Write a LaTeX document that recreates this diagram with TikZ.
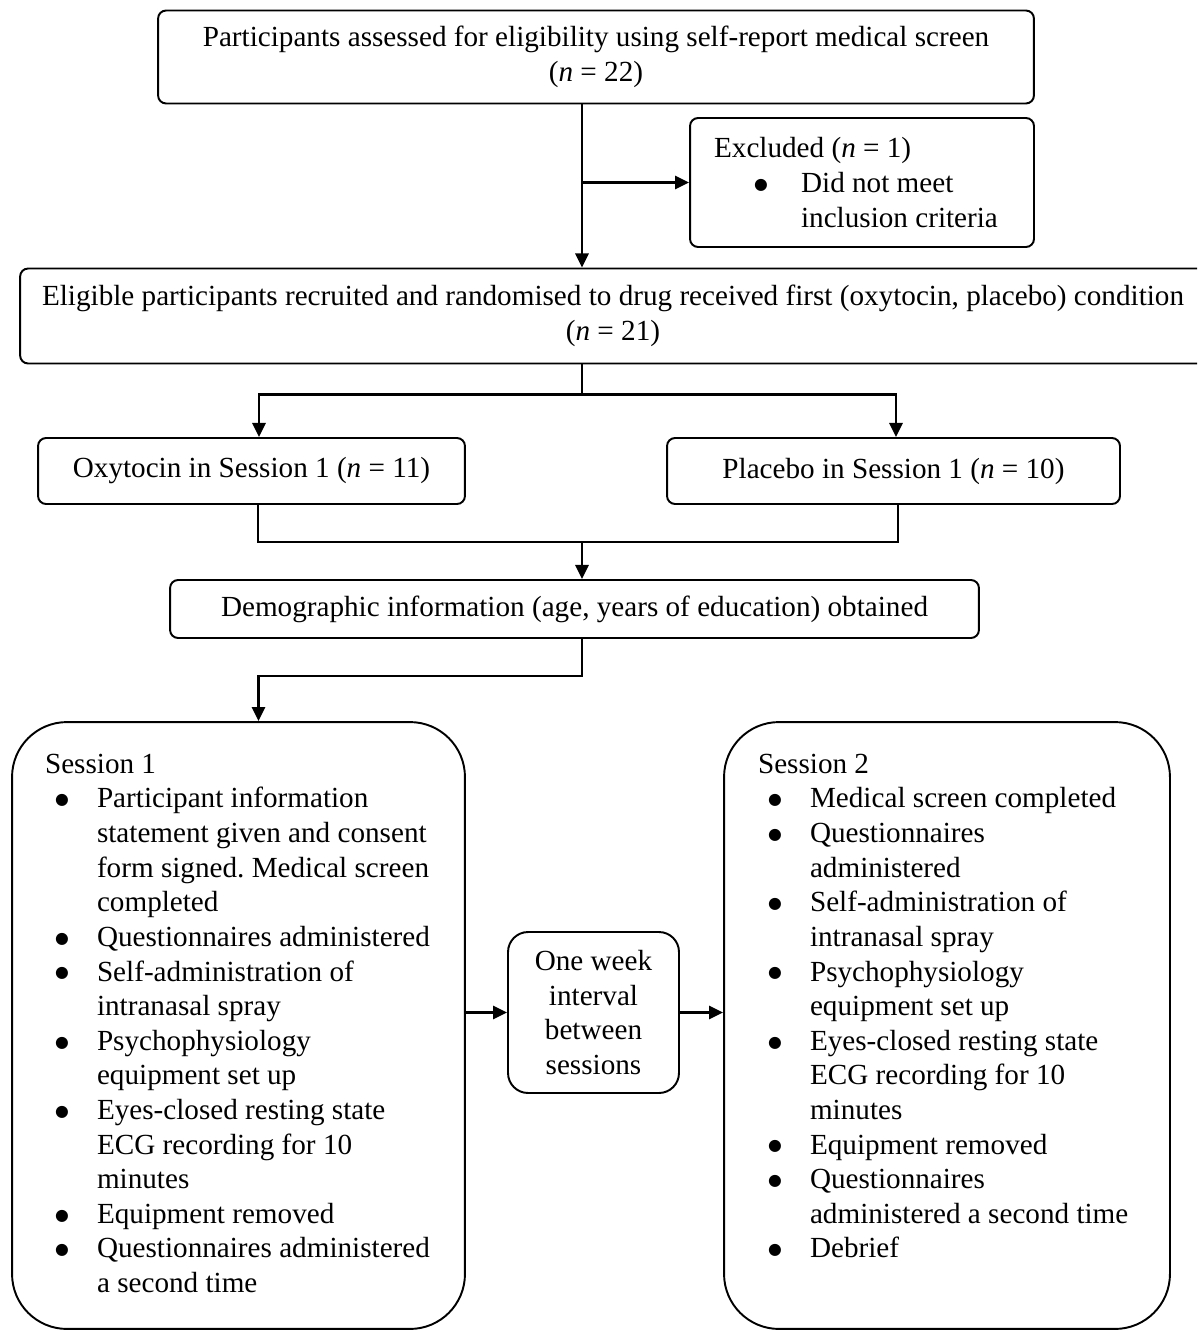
\documentclass[tikz,border=0pt]{standalone}
\usepackage{fontspec}
\setmainfont{Liberation Serif}
\newfontfamily\dotfont{DejaVu Sans}
\usetikzlibrary{arrows.meta,positioning}

\newcommand{\bigdot}{\raisebox{1.8pt}{\dotfont\fontsize{9}{9}\selectfont ●}}
\newcommand{\sesbul}{\makebox[1.04cm][l]{\hspace*{0.2cm}\bigdot}}
\newcommand{\sesind}{\hspace*{1.04cm}}

\begin{document}
\begin{tikzpicture}[
        x=0.02cm, y=-0.02cm,
        >={Triangle[length=8pt,width=7.5pt]},
        line width=1.1pt,
        font=\fontsize{16.6}{19.7}\selectfont,
        box/.style={draw, rectangle, rounded corners=0.16cm, inner sep=0pt, align=center},
        session/.style={draw, rectangle, rounded corners=1.1cm, inner sep=0pt},
        list/.style={align=left, inner sep=0pt, anchor=north west},
        link/.style={line width=1.4pt}
    ]
        \clip (0,0) rectangle (1197,1331);

        % Nodes
        \node (screen) [box, minimum width=17.52cm, minimum height=1.86cm] at (596,57) {Participants assessed for eligibility using self-report medical screen\\(\textit{n} = 22)};
        \node (excl) [box, align=left, minimum width=6.88cm, minimum height=2.58cm] at (862,182.5) {Excluded (\textit{n} = 1)\\\makebox[1.74cm][l]{\hspace*{0.8cm}\bigdot}Did not meet\\\hspace*{1.74cm}inclusion criteria\hspace*{0.24cm}};
        \node (elig) [box, minimum width=23.72cm, minimum height=1.9cm] at (613,316) {Eligible participants recruited and randomised to drug received first (oxytocin, placebo) condition\\(\textit{n} = 21)};
        \node (oxy) [box, minimum width=8.54cm, minimum height=1.32cm] at (251.5,471) {Oxytocin in Session 1 (\textit{n} = 11)};
        \node (plac) [box, minimum width=9.06cm, minimum height=1.32cm] at (893.5,471) {Placebo in Session 1 (\textit{n} = 10)};
        \node (demo) [box, minimum width=16.18cm, minimum height=1.16cm] at (574.5,609) {Demographic information (age, years of education) obtained};
        \node (s1) [session, minimum width=9.06cm, minimum height=12.14cm] at (238.5,1025.5) {};
        \node (s2) [session, minimum width=8.92cm, minimum height=12.14cm] at (947,1025.5) {};
        \node (week) [box, rounded corners=0.4cm, minimum width=3.42cm, minimum height=3.22cm] at (593.5,1012.5) {One week\\interval\\between\\sessions};

        % Session lists
        \node (s1list) [list, below right=0.64cm and 0.66cm of s1.north west] {Session 1\\
            \sesbul Participant information\\
            \sesind statement given and consent\\
            \sesind form signed.\ Medical screen\\
            \sesind completed\\
            \sesbul Questionnaires administered\\
            \sesbul Self-administration of\\
            \sesind intranasal spray\\
            \sesbul Psychophysiology\\
            \sesind equipment set up\\
            \sesbul Eyes-closed resting state\\
            \sesind ECG recording for 10\\
            \sesind minutes\\
            \sesbul Equipment removed\\
            \sesbul Questionnaires administered\\
            \sesind a second time};
        \node (s2list) [list, below right=0.64cm and 0.68cm of s2.north west] {Session 2\\
            \sesbul Medical screen completed\\
            \sesbul Questionnaires\\
            \sesind administered\\
            \sesbul Self-administration of\\
            \sesind intranasal spray\\
            \sesbul Psychophysiology\\
            \sesind equipment set up\\
            \sesbul Eyes-closed resting state\\
            \sesind ECG recording for 10\\
            \sesind minutes\\
            \sesbul Equipment removed\\
            \sesbul Questionnaires\\
            \sesind administered a second time\\
            \sesbul Debrief};

        % Connections
        \coordinate (spine) at (582,0);
        \coordinate (join) at (582,542);
        \draw[->, link] (screen.south -| spine) -- (elig.north -| spine);
        \draw[->, link] (excl.west -| spine) -- (excl.west);
        \draw[link] (elig.south -| spine) -- ++(0,30) coordinate (split);
        \draw[->, link] (split) -| ([xshift=0.15cm]oxy.north);
        \draw[->, link] (split) -| ([xshift=0.05cm]plac.north);
        \draw[link] ([xshift=0.13cm]oxy.south) |- (join) -| ([xshift=0.09cm]plac.south);
        \draw[->, link] (join) -- (demo.north -| join);
        \draw[->, link] (demo.south -| spine) -- ++(0,37) -| ([xshift=0.4cm]s1.north);
        \draw[->, link] (week.west -| s1.east) -- (week.west);
        \draw[->, link] (week.east) -- (week.east -| s2.west);
\end{tikzpicture}
\end{document}
